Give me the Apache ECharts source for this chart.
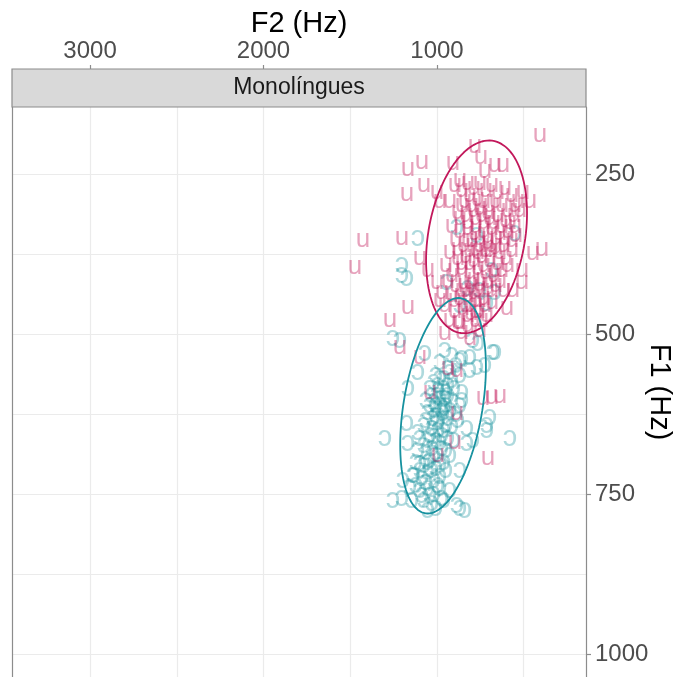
<!DOCTYPE html>
<html>
<head>
<meta charset="utf-8">
<script src="https://cdn.jsdelivr.net/npm/echarts@6/dist/echarts.min.js"></script>
<style>
  html, body { margin: 0; padding: 0; background: #fff; }
  #chart { width: 679px; height: 677px; }
</style>
</head>
<body>
<div id="chart"></div>
<script>
// tokens as [F2, F1] in Hz
const uTokens = [
  [406,189],[1167,241],[1086,231],[1173,281],[1075,267],[781,205],[746,223],[908,233],
  [666,236],[620,236],[723,244],[1000,278],[983,291],[867,259],[464,291],[504,278],
  [1427,352],[1202,350],[1473,395],[395,366],[447,373],[1098,381],[1052,400],[1167,458],
  [1271,478],[510,400],[510,419],[562,431],[597,459],[1213,520],[1098,536],[937,553],
  [885,556],[735,600],[683,598],[637,597],[1040,591],[896,669],[706,694],[994,689],
  [885,623],[954,498],[856,497],[752,494],[810,506],
  [896,267],[856,275],[821,264],[787,272],[752,263],[718,275],[683,267],[648,278],
  [608,272],[568,283],[533,291],[810,283],[764,288],[729,291],[695,298],[660,291],
  [625,298],[591,306],[550,298],[856,298],[925,291],[879,309],[833,314],[787,306],
  [741,313],[695,319],[648,314],[602,322],[556,314],[522,306],
  [914,330],[867,338],[821,334],[775,330],[729,338],[683,334],[637,341],[591,338],
  [545,345],[890,353],[844,361],[798,353],[752,361],[706,356],[660,363],[614,361],
  [568,369],[925,372],[879,381],[833,377],[787,384],[741,378],[695,384],[648,388],
  [602,381],[948,392],[902,400],[856,397],[810,403],[764,397],[718,403],[671,408],
  [625,400],
  [937,416],[890,423],[844,419],[798,425],[752,422],[706,428],[660,423],[914,439],
  [867,444],[821,439],[775,447],[729,444],[683,450],[954,455],[896,463],[850,459],
  [804,466],[758,463],[712,470],[925,478],[867,481],[821,486],[775,478],
  [810,369],[764,372],[718,369],[787,413],[741,413],[833,431],[787,434],[752,350],
  [706,347],[660,350],[810,388],[752,447],[810,455],[1000,419],[971,434],[983,447],
  [839,291],[798,298],[752,303],[706,309],[671,325],[625,330],[579,325],[775,319],
  [821,325],[729,325],[867,319],[683,361],[637,372],[729,392],[775,366],[821,353],
  [856,388],[706,416],[764,431],[810,419],[856,431],[896,447],[723,455],[683,431],
  [637,416],[591,392],[568,353],[608,350],[550,330],[879,366],[781,341],[695,369],
  [833,455],[775,463],[741,478],[821,470],[660,400],[614,431],[914,408],[879,481]
];

const oTokens = [
  [1110,350],[1202,392],[1202,408],[1173,413],[550,342],[885,333],[769,345],[683,400],
  [942,419],[821,428],[752,431],[666,434],[867,455],[712,452],[1254,506],[1213,509],
  [1069,530],[1110,559],[1167,584],[666,528],[723,548],[1300,663],[579,663],[1254,759],
  [1202,756],[867,772],[839,775],[925,744],[971,756],[695,630],[712,650],[827,670],
  [867,713],[885,767],[1196,728],[1156,739],[1138,720],[1098,702],[1167,670],[1173,639],
  [810,556],[769,552],[810,536],[867,541],[764,514],[792,509],[677,528],[827,647],
  [792,666],[712,642],
  [954,525],[914,533],[983,544],[937,553],[890,548],[856,538],[1006,564],[960,569],
  [914,572],[867,564],[1040,584],[994,588],[948,591],[902,584],[856,591],[1063,603],
  [1017,606],[983,600],[948,611],[914,603],[867,611],[1052,622],[1006,627],[971,619],
  [937,631],[890,625],[1075,642],[1029,647],[994,637],[960,650],[914,644],[1098,663],
  [1052,666],[1017,659],[983,669],[937,663],[1110,681],[1063,684],[1029,678],[994,689],
  [948,681],[1121,700],[1075,705],[1040,697],[1006,709],[960,700],[1133,720],[1086,725],
  [1052,716],[1017,728],[983,722],[1098,744],[1052,741],[1017,750],[1075,759],[1029,764],
  [983,741],
  [1000,595],[977,611],[1012,619],[965,623],[988,634],[1023,631],[954,600],
  [994,580],[960,584],[1029,595],[937,595],[1006,611],[960,616],[1040,611],[925,619],
  [994,650],[1040,658],[948,642],[1006,666],[1075,673],[971,678],[1017,689],[1052,700],
  [983,705],[1098,713],[1029,713],[1063,731],[994,736],[1040,752],[1086,752],[948,713],
  [925,689],[902,666],[879,634],[856,603],[983,569],[925,559],[1017,575],[1063,634],
  [1110,653],[960,759],[1006,772],[1052,775],[1121,736],[1144,759],[937,580],[971,658]
];

// ellipse: centre F2, centre F1, F2 half-width, F1 shift at F2 extremes, remaining F1 half-height
const uEllipse = [772, 348, 291, 37, 146];
const oEllipse = [965, 612, 247, 61, 157];

const f2Ticks = [1000, 2000, 3000];
const f2Grid = [500, 1000, 1500, 2000, 2500, 3000];
const f1Ticks = [250, 500, 750, 1000];
const f1Grid = [250, 375, 500, 625, 750, 875, 1000];

const uColor = '#c2185b';
const oColor = '#16919f';
const font = '"Liberation Sans", "DejaVu Sans", Arial, sans-serif';

const ellipsePath = (e) => {
  const pts = [];
  for (let i = 0; i <= 120; i++) {
    const t = i / 120 * Math.PI * 2;
    pts.push([e[0] + e[2] * Math.cos(t), e[1] + e[3] * Math.cos(t) + e[4] * Math.sin(t)]);
  }
  return pts;
};

const glyphSeries = (name, data, glyph, color, alpha, size) => ({
  name,
  type: 'custom',
  data,
  clip: true,
  renderItem: (params, api) => {
    const p = api.coord([api.value(0), api.value(1)]);
    return {
      type: 'text',
      x: p[0],
      y: p[1],
      style: {
        text: glyph,
        fill: color,
        opacity: alpha,
        font: size + 'px ' + font,
        align: 'center',
        verticalAlign: 'middle'
      }
    };
  }
});

const chart = echarts.init(document.getElementById('chart'));
const axisGrey = '#8c8c8c';
const plain = (v) => String(v);

chart.setOption({
  animation: false,
  grid: { left: 12, right: 93, top: 107, bottom: 0, outerBoundsMode: 'none' },
  xAxis: [
    {
      type: 'value', position: 'top', inverse: true, min: 141, max: 3450, offset: 38,
      name: 'F2 (Hz)', nameLocation: 'middle', nameGap: 31, nameMoveOverlap: false,
      nameTextStyle: { fontSize: 29, color: '#000', fontFamily: font },
      axisLine: { show: false },
      axisTick: { show: true, customValues: f2Ticks, length: 4, lineStyle: { color: axisGrey, width: 1.2 } },
      axisLabel: { customValues: f2Ticks, formatter: plain, fontSize: 24, color: '#4d4d4d', fontFamily: font, margin: 6 },
      splitLine: { show: false }
    },
    {
      type: 'value', position: 'bottom', inverse: true, min: 141, max: 3450,
      axisLine: { show: false },
      axisTick: { show: false, customValues: f2Grid },
      axisLabel: { show: false },
      splitLine: { show: true, lineStyle: { color: '#ebebeb', width: 1.2 } }
    }
  ],
  yAxis: [
    {
      type: 'value', position: 'right', inverse: true, min: 145, max: 1036,
      name: 'F1 (Hz)', nameLocation: 'middle', nameGap: 58, nameRotate: -90, nameMoveOverlap: false,
      nameTextStyle: { fontSize: 29, color: '#000', fontFamily: font },
      axisLine: { show: true, lineStyle: { color: axisGrey, width: 1.2 } },
      axisTick: { show: true, customValues: f1Ticks, length: 5, lineStyle: { color: axisGrey, width: 1.2 } },
      axisLabel: { customValues: f1Ticks, formatter: plain, fontSize: 24, color: '#4d4d4d', fontFamily: font, margin: 9 },
      splitLine: { show: false }
    },
    {
      type: 'value', position: 'left', inverse: true, min: 145, max: 1036,
      axisLine: { show: true, lineStyle: { color: axisGrey, width: 1.2 } },
      axisTick: { show: false, customValues: f1Grid },
      axisLabel: { show: false },
      splitLine: { show: true, lineStyle: { color: '#ebebeb', width: 1.2 } }
    }
  ],
  graphic: [
    {
      type: 'rect', z: 100,
      shape: { x: 12, y: 69, width: 574, height: 38 },
      style: { fill: '#d9d9d9', stroke: axisGrey, lineWidth: 1.2 }
    },
    {
      type: 'text', z: 101, x: 299, y: 88,
      style: { text: 'Monolíngues', font: '23px ' + font, fill: '#1a1a1a', align: 'center', verticalAlign: 'middle' }
    }
  ],
  series: [
    glyphSeries('ɔ', oTokens, 'ɔ', oColor, 0.35, 29),
    glyphSeries('u', uTokens, 'u', uColor, 0.4, 26),
    {
      name: 'u ellipse', type: 'line', data: ellipsePath(uEllipse), showSymbol: false,
      lineStyle: { color: uColor, width: 1.8 }, silent: true, z: 5
    },
    {
      name: 'ɔ ellipse', type: 'line', data: ellipsePath(oEllipse), showSymbol: false,
      lineStyle: { color: oColor, width: 1.8 }, silent: true, z: 5
    }
  ]
});
</script>
</body>
</html>
